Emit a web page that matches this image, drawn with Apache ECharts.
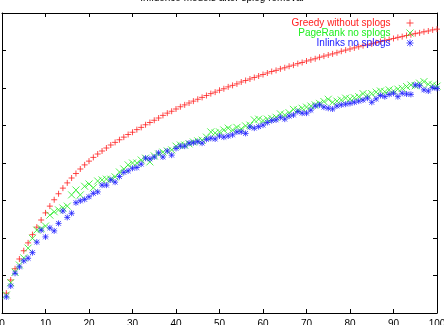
<!DOCTYPE html>
<html>
<head>
<meta charset="utf-8">
<script src="https://cdn.jsdelivr.net/npm/echarts@6/dist/echarts.min.js"></script>
<style>
html, body { margin: 0; padding: 0; background: #fff; }
#box { width: 444px; height: 325px; }
</style>
</head>
<body>
<div id="box"></div>
<script>
// steps on the x axis
var steps = [
    1, 2, 3, 4, 5, 6, 7, 8, 9, 10,
    11, 12, 13, 14, 15, 16, 17, 18, 19, 20,
    21, 22, 23, 24, 25, 26, 27, 28, 29, 30,
    31, 32, 33, 34, 35, 36, 37, 38, 39, 40,
    41, 42, 43, 44, 45, 46, 47, 48, 49, 50,
    51, 52, 53, 54, 55, 56, 57, 58, 59, 60,
    61, 62, 63, 64, 65, 66, 67, 68, 69, 70,
    71, 72, 73, 74, 75, 76, 77, 78, 79, 80,
    81, 82, 83, 84, 85, 86, 87, 88, 89, 90,
    91, 92, 93, 94, 95, 96, 97, 98, 99, 100
]
var greedy = [
    53, 88, 118, 144, 166, 187, 209, 229, 248, 267,
    285, 302, 318, 333, 347, 360, 372, 384, 395, 405,
    415, 424, 432, 440, 448, 455, 462, 469, 476, 482,
    489, 495, 502, 508, 514, 520, 527, 533, 538, 544,
    550, 555, 560, 565, 570, 575, 580, 585, 589, 594,
    598, 603, 607, 611, 616, 620, 624, 628, 632, 636,
    640, 644, 647, 651, 654, 658, 661, 665, 668, 672,
    675, 678, 682, 685, 688, 691, 694, 698, 701, 704,
    707, 710, 713, 715, 718, 721, 724, 727, 729, 732,
    735, 737, 740, 742, 745, 747, 750, 752, 755, 757
]
var pagerank = [
    48, 81, 109, 128, 147, 173, 199, 221, 225, 232,
    261, 270, 275, 280, 285, 315, 328, 315, 338, 344,
    334, 352, 355, 357, 357, 363, 376, 384, 395, 400,
    400, 408, 413, 403, 419, 424, 429, 432, 435, 445,
    448, 448, 451, 456, 459, 461, 469, 483, 480, 483,
    488, 493, 488, 495, 491, 499, 501, 515, 517, 513,
    517, 519, 522, 531, 528, 534, 543, 541, 546, 549,
    552, 555, 559, 564, 570, 562, 565, 568, 573, 571,
    574, 577, 585, 581, 585, 589, 592, 590, 595, 592,
    597, 599, 604, 608, 606, 613, 617, 610, 608, 605
]
var inlinks = [
    43, 72, 106, 123, 139, 146, 161, 189, 221, 203,
    227, 219, 239, 272, 255, 266, 294, 299, 303, 310,
    319, 323, 341, 341, 355, 349, 364, 375, 379, 386,
    388, 397, 413, 411, 416, 427, 416, 432, 421, 439,
    445, 445, 453, 454, 457, 453, 463, 466, 464, 472,
    469, 472, 475, 483, 483, 479, 496, 493, 497, 501,
    508, 513, 515, 522, 517, 525, 528, 537, 533, 533,
    541, 552, 555, 549, 546, 544, 552, 555, 557, 559,
    562, 565, 568, 573, 562, 571, 580, 577, 583, 586,
    577, 586, 584, 583, 608, 606, 595, 592, 601, 599
]
var seriesNames = ['Greedy without splogs', 'PageRank no splogs', 'Inlinks no splogs']
var seriesColors = ['#ff2020', '#20ee20', '#2020ff']

var plusIcon = 'path://M0,5L10,5M5,0L5,10'
var crossIcon = 'path://M0,0L10,10M10,0L0,10'
var starIcon = 'path://M0,5L10,5M5,0L5,10M1,1L9,9M9,1L1,9'
var icons = [plusIcon, crossIcon, starIcon]
var sizes = [6, 7, 6]

var Chart = echarts.init(document.getElementById('box'))

function pairs(vals) {
    return steps.map((x, i) => [x, vals[i]])
}

var axisBase = {
    type: 'value',
    axisLine: { show: true, onZero: false, lineStyle: { color: '#000', width: 1 } },
    axisTick: { show: true, inside: true, length: 4, lineStyle: { color: '#000' } },
    splitLine: { show: false }
}

var option = {
    animation: false,
    title: {
        text: 'Influence models after splog removal',
        left: 'center',
        top: -7,
        padding: 0,
        textStyle: { fontSize: 10, fontWeight: 'normal', color: '#000', fontFamily: 'Liberation Sans' }
    },
    legend: {
        orient: 'vertical',
        align: 'right',
        right: 30,
        top: 18,
        padding: 0,
        itemGap: 0,
        itemWidth: 7,
        itemHeight: 7,
        selectedMode: false,
        textStyle: { fontSize: 10, fontFamily: 'Liberation Sans', lineHeight: 10, padding: [0, 11, 0, 0] },
        data: seriesNames.map((n, i) => ({
            name: n,
            icon: icons[i],
            itemStyle: { color: 'transparent', borderColor: seriesColors[i], borderWidth: 1 },
            textStyle: { color: seriesColors[i] }
        }))
    },
    grid: { left: 2, right: 7, top: 13, bottom: 12, containLabel: false, outerBoundsMode: 'none' },
    xAxis: [
        Object.assign({}, axisBase, {
            position: 'bottom', min: 0, max: 100, interval: 10,
            axisLabel: { show: true, fontSize: 10, margin: 6, color: '#000', fontFamily: 'Liberation Sans' }
        }),
        Object.assign({}, axisBase, {
            position: 'top', min: 0, max: 100, interval: 10,
            axisLabel: { show: false }
        })
    ],
    yAxis: [
        Object.assign({}, axisBase, {
            position: 'left', min: 0, max: 800, interval: 100,
            axisLabel: { show: false }
        }),
        Object.assign({}, axisBase, {
            position: 'right', min: 0, max: 800, interval: 100,
            axisLabel: { show: false }
        })
    ],
    series: [greedy, pagerank, inlinks].map((vals, i) => ({
        name: seriesNames[i],
        type: 'scatter',
        symbol: icons[i],
        symbolSize: sizes[i],
        itemStyle: { color: 'transparent', borderColor: seriesColors[i], borderWidth: 1 },
        emphasis: { disabled: true },
        data: pairs(vals)
    }))
}
Chart.setOption(option)
</script>
</body>
</html>
